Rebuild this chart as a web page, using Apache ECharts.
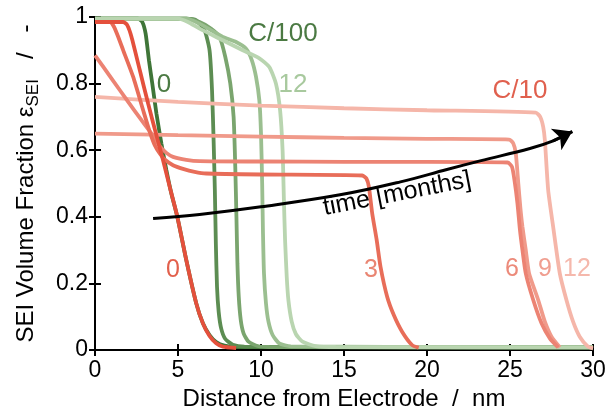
<!DOCTYPE html>
<html><head><meta charset="utf-8">
<script src="https://cdn.jsdelivr.net/npm/echarts@6/dist/echarts.min.js"></script>
<style>html,body{margin:0;padding:0;background:#fff}#c{width:615px;height:416px}</style>
</head><body><div id="c"></div>
<script>
// ---- data (x in nm, y = SEI volume fraction) ----
const xTicks = [0, 5, 10, 15, 20, 25, 30];
const yTicks = [0, 0.2, 0.4, 0.6, 0.8, 1];
const monthLabels = ['0', '3', '6', '9', '12'];

// C/100 (green)
const c100_m0 = [[0,0.995],[2.6,0.995],[2.85,0.985],[3.05,0.95],[3.25,0.87],[3.45,0.8],[3.7,0.71],[4.0,0.62],[4.3,0.54],[4.6,0.47],[4.96,0.4],[5.5,0.27],[6.1,0.14],[6.5,0.08],[6.9,0.045],[7.3,0.024],[7.8,0.013],[8.5,0.009],[30,0.008]];
const c100_m3 = [[0,0.995],[5.5,0.995],[6.1,0.99],[6.6,0.96],[6.9,0.9],[7.05,0.78],[7.15,0.62],[7.22,0.48],[7.28,0.32],[7.35,0.19],[7.45,0.115],[7.6,0.065],[7.85,0.033],[8.3,0.016],[9,0.01],[30,0.008]];
const c100_m6 = [[0,0.995],[5.5,0.995],[6.3,0.985],[7.0,0.965],[7.5,0.94],[7.85,0.88],[8.15,0.8],[8.35,0.7],[8.45,0.55],[8.52,0.4],[8.58,0.26],[8.66,0.16],[8.78,0.09],[8.95,0.05],[9.25,0.025],[9.8,0.012],[10.5,0.009],[30,0.008]];
const c100_m9 = [[0,0.995],[5.5,0.995],[6.3,0.98],[7.0,0.96],[7.7,0.94],[8.5,0.925],[9.1,0.905],[9.45,0.87],[9.7,0.82],[9.9,0.75],[10.0,0.65],[10.07,0.5],[10.12,0.35],[10.18,0.23],[10.3,0.14],[10.45,0.085],[10.7,0.045],[11.1,0.02],[11.8,0.011],[30,0.008]];
const c100_m12 = [[0,0.995],[5.0,0.995],[5.6,0.985],[6.3,0.965],[7.7,0.93],[8.9,0.9],[9.9,0.876],[10.5,0.85],[10.9,0.8],[11.15,0.72],[11.3,0.6],[11.38,0.45],[11.45,0.33],[11.55,0.22],[11.65,0.15],[11.85,0.085],[12.1,0.048],[12.5,0.025],[13.3,0.012],[14.5,0.009],[30,0.008]];

// C/10 (red)
const c10_m0 = [[0,0.985],[1.7,0.985],[1.95,0.975],[2.2,0.94],[2.7,0.84],[3.2,0.74],[3.7,0.645],[4.1,0.57],[4.5,0.49],[4.96,0.4],[5.5,0.27],[6.1,0.14],[6.5,0.08],[6.9,0.042],[7.3,0.02],[7.7,0.01],[8.5,0.006]];
const c10_m3 = [[0,0.985],[0.9,0.985],[1.15,0.97],[1.4,0.94],[1.7,0.9],[2.3,0.82],[2.9,0.72],[3.3,0.655],[3.6,0.615],[3.9,0.59],[4.2,0.572],[4.7,0.555],[5.3,0.544],[6.0,0.535],[6.7,0.53],[10,0.527],[16.1,0.524],[16.35,0.515],[16.5,0.49],[16.7,0.41],[16.97,0.33],[17.2,0.25],[17.6,0.16],[18.0,0.105],[18.5,0.055],[19.1,0.015],[19.5,0.007]];
const c10_m6 = [[0,0.885],[1,0.815],[2,0.745],[2.8,0.69],[3.4,0.65],[3.9,0.612],[4.3,0.592],[4.7,0.58],[5.5,0.571],[6.3,0.567],[10,0.566],[15,0.565],[20,0.565],[24.85,0.563],[25.12,0.55],[25.27,0.51],[25.45,0.44],[25.6,0.36],[25.75,0.3],[25.95,0.23],[26.4,0.15],[26.9,0.08],[27.4,0.035],[27.9,0.008]];
const c10_m9 = [[0,0.65],[5,0.645],[10,0.641],[15,0.637],[20,0.634],[24.95,0.632],[25.2,0.62],[25.35,0.59],[25.5,0.5],[25.62,0.43],[25.75,0.37],[25.95,0.3],[26.15,0.23],[26.7,0.15],[27.1,0.085],[27.5,0.04],[28.0,0.008]];
const c10_m12 = [[0,0.76],[5,0.745],[10,0.734],[15,0.726],[20,0.72],[26.55,0.713],[26.82,0.7],[27.0,0.67],[27.1,0.63],[27.3,0.48],[27.6,0.37],[28.0,0.23],[28.4,0.15],[28.8,0.085],[29.2,0.04],[29.7,0.01],[30,0.005]];

// "time [months]" arrow
const arrowPts = [[3.5,0.395],[6.3,0.407],[10,0.43],[14.76,0.466],[18.4,0.505],[21.2,0.542],[23.2,0.568],[26.2,0.605],[27.6,0.628],[28.75,0.656]];

const greenCols = ['#3f7538', '#5c8d52', '#7aa56e', '#9bbf90', '#b9d5b0'];
const redCols = ['#e4503c', '#e86d59', '#ec8373', '#f09a8a', '#f5b6a9'];

const greens = [c100_m0, c100_m3, c100_m6, c100_m9, c100_m12];
const reds = [c10_m0, c10_m3, c10_m6, c10_m9, c10_m12];

const series = [];
greens.forEach((d, i) => series.push({
  type: 'line', name: 'C/100 ' + monthLabels[i], data: d, showSymbol: false, symbol: 'none',
  smooth: 0.2, clip: false, lineStyle: { color: greenCols[i], width: 3.8 }, z: 2 + i * 0.1
}));
[4, 3, 2, 1, 0].forEach(i => series.push({
  type: 'line', name: 'C/10 ' + monthLabels[i], data: reds[i], showSymbol: false, symbol: 'none',
  smooth: 0.2, clip: false, lineStyle: { color: redCols[i], width: 3.8 }, z: 3 + (4 - i) * 0.1
}));
series.push({
  type: 'line', data: arrowPts, showSymbol: false, symbol: 'none', smooth: 0.4,
  lineStyle: { color: '#000', width: 3 }, z: 5
});
series.push({
  type: 'lines', coordinateSystem: 'cartesian2d', polyline: false,
  data: [{ coords: arrowPts.slice(-2) }],
  symbol: ['none', 'arrow'], symbolSize: 18,
  lineStyle: { color: '#000', width: 3, opacity: 1 }, z: 5
});

const F = 'Liberation Sans, Arial, Helvetica, sans-serif';
const axisLine = { show: true, lineStyle: { color: '#000', width: 2 } };
const tick = { show: true, inside: true, length: 6, lineStyle: { color: '#000', width: 2 } };

function txt(s, x, y, color, size, rot) {
  return { type: 'text', x: x, y: y, rotation: rot || 0, z: 10,
    style: { text: s, fill: color, font: (size || 25) + 'px ' + F, textAlign: 'center', textVerticalAlign: 'middle' } };
}

const chart = echarts.init(document.getElementById('c'), null, { renderer: 'canvas' });
chart.setOption({
  animation: false,
  backgroundColor: '#fff',
  grid: { left: 95, right: 22, top: 17, bottom: 66, containLabel: false },
  xAxis: [
    { type: 'value', min: xTicks[0], max: xTicks[xTicks.length - 1], interval: 5,
      name: 'Distance from Electrode  /  nm', nameLocation: 'middle', nameGap: 33,
      nameTextStyle: { fontSize: 24, color: '#000', fontFamily: F },
      axisLine: axisLine, axisTick: tick, splitLine: { show: false },
      axisLabel: { fontSize: 23, color: '#000', fontFamily: F, margin: 9 } },
    { type: 'value', position: 'top', min: xTicks[0], max: xTicks[xTicks.length - 1], interval: 5,
      axisLine: axisLine, axisTick: tick, axisLabel: { show: false }, splitLine: { show: false } }
  ],
  yAxis: [
    { type: 'value', min: yTicks[0], max: yTicks[yTicks.length - 1], interval: 0.2,
      name: '{m|SEI Volume Fraction ε}{s|SEI}{m|   /   -}', nameLocation: 'middle', nameGap: 53,
      nameTextStyle: { color: '#000', fontFamily: F,
        rich: { m: { fontSize: 24, fontFamily: F, color: '#000', lineHeight: 32, verticalAlign: 'middle' },
                s: { fontSize: 17, fontFamily: F, color: '#000', lineHeight: 32, verticalAlign: 'bottom' } } },
      axisLine: axisLine, axisTick: tick, splitLine: { show: false },
      axisLabel: { fontSize: 23, color: '#000', fontFamily: F, margin: 7 } },
    { type: 'value', position: 'right', min: yTicks[0], max: yTicks[yTicks.length - 1], interval: 0.2,
      axisLine: axisLine, axisTick: tick, axisLabel: { show: false }, splitLine: { show: false } }
  ],
  graphic: [
    txt('C/100', 283, 34, '#4b7a43', 26),
    txt(monthLabels[0], 164, 85, '#4b7a43', 26),
    txt(monthLabels[4], 293, 85, '#a8c99e', 26),
    txt('C/10', 520, 91, '#e0604e', 26),
    txt(monthLabels[0], 173, 270, '#e2604c', 25),
    txt(monthLabels[1], 371, 270, '#e98572', 25),
    txt(monthLabels[2], 512, 269, '#ec8a7a', 25),
    txt(monthLabels[3], 545, 269, '#f09e90', 25),
    txt(monthLabels[4], 577, 269, '#f5b8ac', 25),
    txt('time [months]', 397, 194, '#000', 25, 11 * Math.PI / 180)
  ],
  series: series
});
</script></body></html>
